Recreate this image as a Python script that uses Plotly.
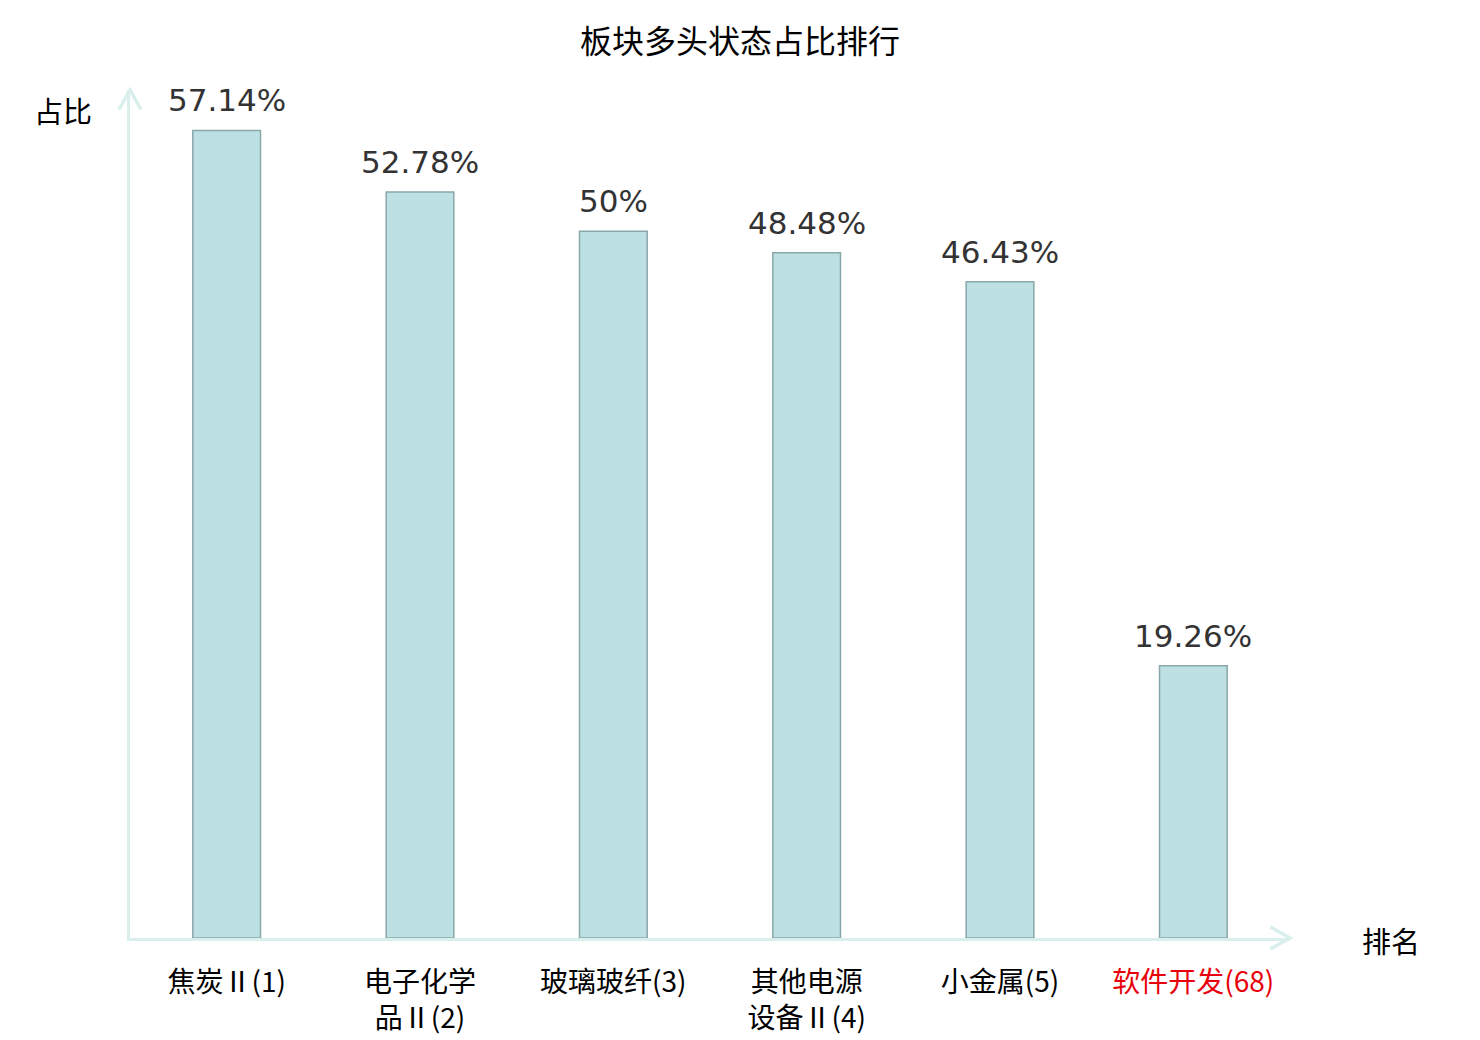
import plotly.graph_objects as go

# sector names, rank in brackets
categories = ['焦炭Ⅱ(1)', '电子化学品Ⅱ(2)', '玻璃玻纤(3)', '其他电源设备Ⅱ(4)', '小金属(5)', '软件开发(68)']
tick_labels = ['焦炭Ⅱ(1)', '电子化学<br>品Ⅱ(2)', '玻璃玻纤(3)', '其他电源<br>设备Ⅱ(4)', '小金属(5)',
               '<span style="color:#e8000b">软件开发(68)</span>']
ratios = [57.14, 52.78, 50, 48.48, 46.43, 19.26]

AXIS_COLOR = '#d8efeb'

fig = go.Figure()
fig.add_trace(go.Bar(
    x=categories,
    y=ratios,
    width=0.35,
    marker=dict(color='#bce0e3', line=dict(color='#8aa7a9', width=1.5)),
    hoverinfo='x+y',
))

# value labels above the bars
for cat, val in zip(categories, ratios):
    fig.add_annotation(
        x=cat, y=val, text=f'{val:g}%', showarrow=False,
        yanchor='bottom', yshift=10,
        font=dict(family='DejaVu Sans', size=31, color='#333333'),
    )

# axis arrow heads (paper coords of the plot area)
fig.add_shape(type='path', xref='paper', yref='paper',
              path='M -0.0095,0.9770 L 0,1.0 L 0.0095,0.9770',
              line=dict(color=AXIS_COLOR, width=3.5))
fig.add_shape(type='path', xref='paper', yref='paper',
              path='M 0.9830,0.0130 L 1.0,0 L 0.9830,-0.0130',
              line=dict(color=AXIS_COLOR, width=3.5))

# axis names
fig.add_annotation(x=-0.0578, y=0.9764, xref='paper', yref='paper', text='占比',
                   xanchor='center', yanchor='middle', showarrow=False,
                   font=dict(family='Noto Sans CJK SC', size=29, color='#000000'))
fig.add_annotation(x=1.0871, y=-0.0024, xref='paper', yref='paper', text='排名',
                   xanchor='center', yanchor='middle', showarrow=False,
                   font=dict(family='Noto Sans CJK SC', size=29, color='#000000'))

fig.update_layout(
    width=1480,
    height=1040,
    margin=dict(l=122, r=198, t=82, b=102),
    plot_bgcolor='white',
    paper_bgcolor='white',
    showlegend=False,
    title=dict(
        text='板块多头状态占比排行',
        x=(740 - 8) / 1480, xanchor='center',
        y=1 - 34 / 1040, yref='container', yanchor='middle',
        font=dict(family='Noto Sans CJK SC', size=32, color='#000000'),
    ),
    xaxis=dict(
        tickmode='array',
        tickvals=categories,
        ticktext=tick_labels,
        ticks='outside', ticklen=17, tickcolor='rgba(0,0,0,0)',
        showline=True, linecolor=AXIS_COLOR, linewidth=3,
        showgrid=False, zeroline=False,
        tickfont=dict(family='Noto Sans CJK SC', size=28, color='#000000'),
    ),
    yaxis=dict(
        range=[0, 60],
        showline=True, linecolor=AXIS_COLOR, linewidth=3,
        showgrid=False, zeroline=False, showticklabels=False, ticks='',
    ),
)

fig.write_html('out.html')
